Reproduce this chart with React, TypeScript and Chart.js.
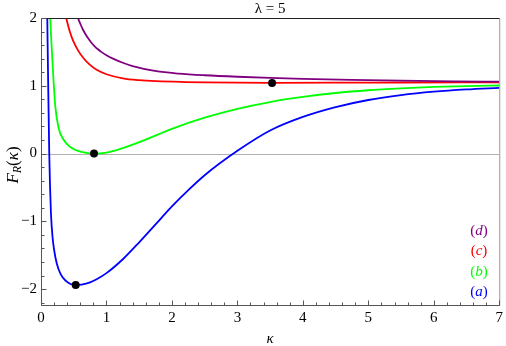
import React, { useEffect, useRef } from 'react';
import { Chart, registerables } from 'chart.js';

Chart.register(...registerables);

const SERIF = '"Liberation Serif", "DejaVu Serif", serif';

// ---- data ----
const kappaA = [0.085, 0.096, 0.11, 0.126, 0.137, 0.152, 0.175, 0.2, 0.24, 0.3, 0.38, 0.45, 0.53, 0.62, 0.75, 0.85, 1.0, 1.25, 1.5, 1.75, 2.0, 2.25, 2.5, 3.0, 3.5, 4.0, 4.5, 5.0, 5.5, 6.0, 6.5, 7.0];
const valuesA = [2.8, 2.0, 1.0, 0.0, -0.45, -0.88, -1.22, -1.42, -1.62, -1.78, -1.88, -1.925, -1.94, -1.933, -1.9, -1.855, -1.765, -1.56, -1.31, -1.045, -0.78, -0.54, -0.32, 0.04, 0.34, 0.54, 0.685, 0.79, 0.862, 0.912, 0.946, 0.97];

const kappaB = [0.13, 0.142, 0.167, 0.19, 0.218, 0.268, 0.34, 0.43, 0.52, 0.62, 0.72, 0.81, 1.0, 1.2, 1.4, 1.6, 2.0, 2.5, 3.0, 3.5, 4.0, 4.5, 5.0, 5.5, 6.0, 6.5, 7.0];
const valuesB = [2.4, 2.0, 1.5, 1.1, 0.7, 0.38, 0.21, 0.11, 0.055, 0.025, 0.006, 0.0, 0.015, 0.065, 0.131, 0.205, 0.365, 0.53, 0.66, 0.76, 0.835, 0.893, 0.934, 0.962, 0.983, 0.996, 1.004];

const kappaC = [0.36, 0.385, 0.44, 0.49, 0.57, 0.66, 0.74, 0.85, 1.0, 1.25, 1.5, 1.76, 2.2, 2.52, 3.0, 3.53, 4.5, 5.5, 7.0];
const valuesC = [2.1, 2.0, 1.8, 1.665, 1.515, 1.395, 1.315, 1.235, 1.17, 1.11, 1.082, 1.067, 1.055, 1.05, 1.046, 1.044, 1.045, 1.048, 1.052];

const kappaD = [0.54, 0.565, 0.6, 0.64, 0.68, 0.72, 0.77, 0.82, 0.87, 0.92, 1.0, 1.1, 1.25, 1.4, 1.76, 2.1, 2.5, 3.0, 3.5, 4.0, 4.74, 5.5, 6.3, 7.0];
const valuesD = [2.08, 2.0, 1.915, 1.83, 1.76, 1.7, 1.635, 1.582, 1.538, 1.5, 1.45, 1.4, 1.34, 1.29, 1.215, 1.18, 1.155, 1.133, 1.116, 1.103, 1.088, 1.076, 1.066, 1.06];

const dotKappa = [0.53, 0.81, 3.53];
const dotValues = [-1.94, 0.0, 1.04];

const xTickValues = [0, 1, 2, 3, 4, 5, 6, 7];
const yTickValues = [-2, -1, 0, 1, 2];

const legendLetters = ['d', 'c', 'b', 'a'];
const legendColors = ['#800080', '#ff0000', '#00ff00', '#0000ff'];

const titleText = 'λ = 5';
const xLabelText = 'κ';

const toPoints = (xs: number[], ys: number[]) => xs.map((x, i) => ({ x, y: ys[i] }));

const framePlugin = {
  id: 'frameDecor',
  beforeDatasetsDraw(chart: any) {
    const { ctx, chartArea: ca, scales } = chart;
    const y0 = Math.round(scales.y.getPixelForValue(0)) + 0.5;
    ctx.save();
    ctx.strokeStyle = '#b0b0b0';
    ctx.lineWidth = 1;
    ctx.beginPath();
    ctx.moveTo(ca.left, y0);
    ctx.lineTo(ca.right, y0);
    ctx.stroke();
    ctx.restore();
  },
  afterDatasetsDraw(chart: any) {
    const { ctx, chartArea: ca, scales } = chart;
    const xs = scales.x;
    const ys = scales.y;
    const L = ca.left + 0.5;
    const R = ca.right + 0.5;
    const T = ca.top + 0.5;
    const B = ca.bottom - 0.5;
    ctx.save();
    ctx.lineWidth = 1;
    // top frame
    ctx.strokeStyle = '#222222';
    ctx.beginPath();
    ctx.moveTo(L, T);
    ctx.lineTo(R, T);
    ctx.stroke();
    // right frame
    ctx.strokeStyle = '#999999';
    ctx.beginPath();
    ctx.moveTo(R, T);
    ctx.lineTo(R, B);
    ctx.stroke();
    // left and bottom axes
    ctx.strokeStyle = '#555555';
    ctx.beginPath();
    ctx.moveTo(L, T);
    ctx.lineTo(L, B);
    ctx.lineTo(R, B);
    ctx.stroke();
    // ticks
    ctx.beginPath();
    for (let i = 0; i <= 35; i++) {
      const v = i * 0.2;
      const major = i % 5 === 0;
      const px = Math.round(xs.getPixelForValue(v)) + 0.5;
      ctx.moveTo(px, B);
      ctx.lineTo(px, B - (major ? 5 : 3));
    }
    for (let i = -11; i <= 10; i++) {
      const v = i * 0.2;
      if (v < ys.min - 1e-9) continue;
      const major = i % 5 === 0;
      const py = Math.round(ys.getPixelForValue(v)) + 0.5;
      ctx.moveTo(L, py);
      ctx.lineTo(L + (major ? 5 : 3), py);
    }
    ctx.stroke();

    // title
    const cx = (ca.left + ca.right) / 2;
    ctx.fillStyle = '#000';
    ctx.textAlign = 'center';
    ctx.textBaseline = 'alphabetic';
    ctx.font = `15px ${SERIF}`;
    ctx.fillText(titleText, cx, 13);

    // x label
    ctx.font = `italic 15px ${SERIF}`;
    ctx.fillText(xLabelText, cx, 343);

    // y label  F_R(κ)
    ctx.save();
    ctx.translate(18, (ca.top + ca.bottom) / 2 + 3);
    ctx.rotate(-Math.PI / 2);
    ctx.textAlign = 'left';
    const parts = [
      { t: 'F', f: `italic 17px ${SERIF}`, dy: 0 },
      { t: 'R', f: `italic 12px ${SERIF}`, dy: 3 },
      { t: '(', f: `17px ${SERIF}`, dy: 0 },
      { t: 'κ', f: `italic 17px ${SERIF}`, dy: 0 },
      { t: ')', f: `17px ${SERIF}`, dy: 0 },
    ];
    let total = 0;
    const widths = parts.map((p) => {
      ctx.font = p.f;
      const w = ctx.measureText(p.t).width;
      total += w;
      return w;
    });
    let xpos = -total / 2;
    parts.forEach((p, i) => {
      ctx.font = p.f;
      ctx.fillText(p.t, xpos, p.dy);
      xpos += widths[i];
    });
    ctx.restore();

    // curve labels
    legendLetters.forEach((letter, i) => {
      const yBase = 235 + i * 20.3;
      const segs = [
        { t: '(', f: `15px ${SERIF}` },
        { t: letter, f: `italic 15px ${SERIF}` },
        { t: ')', f: `15px ${SERIF}` },
      ];
      let tw = 0;
      const ws = segs.map((s) => {
        ctx.font = s.f;
        const w = ctx.measureText(s.t).width;
        tw += w;
        return w;
      });
      let xx = 479 - tw / 2;
      ctx.fillStyle = legendColors[i];
      ctx.textAlign = 'left';
      segs.forEach((s, j) => {
        ctx.font = s.f;
        ctx.fillText(s.t, xx, yBase);
        xx += ws[j];
      });
    });
    ctx.restore();
  },
};

export default function App() {
  const canvasRef = useRef<HTMLCanvasElement | null>(null);

  useEffect(() => {
    if (!canvasRef.current) return;
    const lineDs = (label: string, xs: number[], ys: number[], color: string) => ({
      label,
      data: toPoints(xs, ys),
      borderColor: color,
      backgroundColor: color,
      borderWidth: 1.8,
      pointRadius: 0,
      showLine: true,
      fill: false,
      cubicInterpolationMode: 'monotone' as const,
      clip: 0,
    });
    const chart = new Chart(canvasRef.current, {
      type: 'scatter',
      data: {
        datasets: [
          {
            label: 'extrema',
            data: toPoints(dotKappa, dotValues),
            pointRadius: 4,
            pointBackgroundColor: '#000',
            pointBorderColor: '#000',
            pointBorderWidth: 0,
            showLine: false,
            clip: 0,
          } as any,
          lineDs('(d)', kappaD, valuesD, '#800080'),
          lineDs('(c)', kappaC, valuesC, '#ff0000'),
          lineDs('(b)', kappaB, valuesB, '#00ff00'),
          lineDs('(a)', kappaA, valuesA, '#0000ff'),
        ],
      },
      options: {
        responsive: false,
        animation: false,
        devicePixelRatio: 1,
        events: [],
        layout: { padding: { top: 18, right: 4, left: 0, bottom: 0 } },
        plugins: {
          legend: { display: false },
          tooltip: { enabled: false },
          title: { display: false },
        },
        scales: {
          x: {
            type: 'linear',
            min: 0,
            max: 7,
            afterFit: (s: any) => {
              s.height = 40;
            },
            afterBuildTicks: (s: any) => {
              s.ticks = xTickValues.map((v) => ({ value: v }));
            },
            ticks: {
              font: { family: SERIF, size: 15 },
              color: '#000',
              padding: 3,
              maxRotation: 0,
              autoSkip: false,
            },
            grid: { display: false, drawTicks: false },
            border: { display: false },
          },
          y: {
            type: 'linear',
            min: -2.25,
            max: 2,
            afterFit: (s: any) => {
              s.width = 41;
            },
            afterBuildTicks: (s: any) => {
              s.ticks = yTickValues.map((v) => ({ value: v }));
            },
            ticks: {
              font: { family: SERIF, size: 15 },
              color: '#000',
              padding: 4,
              autoSkip: false,
              callback: (v: any) => (Number(v) < 0 ? '\u2212' + Math.abs(Number(v)) : String(v)),
            },
            grid: { display: false, drawTicks: false },
            border: { display: false },
          },
        },
      },
      plugins: [framePlugin],
    });
    return () => chart.destroy();
  }, []);

  return (
    <div style={{ position: 'fixed', left: 0, top: 0, width: 506, height: 346, background: '#fff' }}>
      <canvas ref={canvasRef} width={506} height={346} style={{ display: 'block' }} />
    </div>
  );
}
